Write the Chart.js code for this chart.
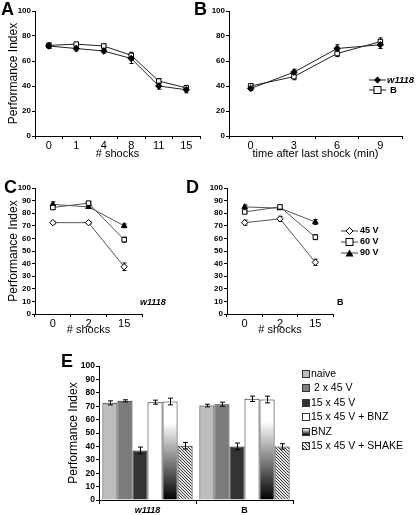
<!DOCTYPE html>
<html>
<head>
<meta charset="utf-8">
<script src="https://cdn.jsdelivr.net/npm/chart.js@4.4.1/dist/chart.umd.min.js"></script>
<style>
  body { margin: 0; background: #fff; width: 416px; height: 515px; position: relative; overflow: hidden;
         font-family: "Liberation Sans", Arial, sans-serif; color: #000; }
  canvas, .t, svg, .sw { position: absolute; }
  .t { white-space: pre; line-height: 1; }
  .panel { font-size: 18px; font-weight: bold; }
  .sw { width: 6px; height: 6px; border: 1px solid #333; }
</style>
</head>
<body>
<canvas id="chartA" width="205" height="165" style="left:0;top:0"></canvas>
<canvas id="chartB" width="210" height="165" style="left:200px;top:0"></canvas>
<canvas id="chartC" width="150" height="175" style="left:0;top:165px"></canvas>
<canvas id="chartD" width="140" height="175" style="left:198px;top:165px"></canvas>
<canvas id="chartE" width="245" height="165" style="left:55px;top:350px"></canvas>

<div class="t panel" style="left:1px;top:0">A</div>
<div class="t panel" style="left:194px;top:0">B</div>
<div class="t panel" style="left:4px;top:178px">C</div>
<div class="t panel" style="left:186px;top:178px">D</div>
<div class="t panel" style="left:61px;top:352px">E</div>

<!-- legend B -->
<svg width="17" height="8" style="left:369px;top:76px"><line x1="0" y1="4" x2="17" y2="4" stroke="#222"/><path d="M8.5 0.5 L12 4 L8.5 7.5 L5 4Z" fill="#000"/></svg>
<div class="t" style="left:387px;top:75px;font-size:9.5px;font-weight:bold;font-style:italic">w1118</div>
<svg width="17" height="8" style="left:369px;top:86px"><line x1="0" y1="4" x2="17" y2="4" stroke="#222"/><rect x="5" y="0.5" width="7" height="7" fill="#fff" stroke="#000"/></svg>
<div class="t" style="left:390px;top:85px;font-size:9.5px;font-weight:bold">B</div>

<!-- legend D -->
<svg width="17" height="8" style="left:341px;top:227px"><line x1="0" y1="4" x2="17" y2="4" stroke="#444"/><path d="M8.5 0.5 L12 4 L8.5 7.5 L5 4Z" fill="#fff" stroke="#000"/></svg>
<div class="t" style="left:360px;top:226px;font-size:9px;font-weight:bold">45 V</div>
<svg width="17" height="8" style="left:341px;top:238px"><line x1="0" y1="4" x2="17" y2="4" stroke="#444"/><rect x="5" y="0.5" width="7" height="7" fill="#fff" stroke="#000"/></svg>
<div class="t" style="left:360px;top:237px;font-size:9px;font-weight:bold">60 V</div>
<svg width="17" height="8" style="left:341px;top:249px"><line x1="0" y1="4" x2="17" y2="4" stroke="#444"/><path d="M8.5 0.5 L12.5 7.5 L4.5 7.5Z" fill="#000"/></svg>
<div class="t" style="left:360px;top:248px;font-size:9px;font-weight:bold">90 V</div>

<div class="t" style="left:140px;top:298px;font-size:9px;font-weight:bold;font-style:italic">w1118</div>
<div class="t" style="left:337px;top:298px;font-size:9px;font-weight:bold">B</div>

<div id="legendE"></div>

<script>
// ---- data ----
const shocksA = ['0', '1', '4', '8', '11', '15'];
const w1118A = [72, 70, 68, 62, 40, 37];
const w1118AErr = [2, 2, 1.5, 4, 2.5, 2.5];
const strainBA = [72.5, 73.5, 72, 64.5, 44, 38.5];
const strainBAErr = [2, 1.5, 1.5, 2.5, 2, 2];

const minutesB = ['0', '3', '6', '9'];
const w1118B = [38, 51, 70, 73];
const w1118BErr = [1.5, 2.5, 3, 3];
const strainBB = [40, 47.5, 66, 75.5];
const strainBBErr = [2, 2.5, 2.5, 3];

const shocksCD = ['0', '2', '15'];
const volt45C = [72.5, 72.5, 37.5];
const volt45CErr = [1, 1, 3];
const volt60C = [84.5, 88, 59];
const volt60CErr = [1.5, 1, 2];
const volt90C = [87, 85, 70];
const volt90CErr = [2, 1, 1.5];

const volt45D = [72.5, 75.5, 41];
const volt45DErr = [2, 2, 2.5];
const volt60D = [81, 85, 61];
const volt60DErr = [1, 1.5, 2];
const volt90D = [85, 84, 73];
const volt90DErr = [1.5, 1, 2];

const strainsE = ['w1118', 'B'];
const treatmentsE = ['naive', ' 2 x 45 V', '15 x 45 V', '15 x 45 V + BNZ', 'BNZ', '15 x 45 V + SHAKE'];
const naiveE = [72.5, 70.5];
const naiveEErr = [1.5, 1];
const twoShockE = [74, 71.5];
const twoShockEErr = [0.8, 1.5];
const fifteenShockE = [37, 40];
const fifteenShockEErr = [2.5, 2.5];
const fifteenBnzE = [73, 75.5];
const fifteenBnzEErr = [1.5, 2];
const bnzE = [73.5, 75];
const bnzEErr = [2.5, 2.5];
const shakeE = [40.5, 40];
const shakeEErr = [2.5, 2];

// ---- setup ----
Chart.defaults.font.family = '"Liberation Sans", Arial, sans-serif';
Chart.defaults.color = '#000';
Chart.defaults.animation = false;
Chart.defaults.plugins.legend.display = false;
Chart.defaults.plugins.tooltip.enabled = false;

function drawErrors(chart) {
    const ctx = chart.ctx;
    const y = chart.scales.y;
    const cap = chart.config.type === 'bar' ? 2.5 : 2;
    chart.data.datasets.forEach(function(ds, i) {
        if (!ds.errors) return;
        const meta = chart.getDatasetMeta(i);
        ctx.save();
        ctx.strokeStyle = '#000';
        ctx.lineWidth = 1;
        meta.data.forEach(function(el, j) {
            const x = Math.round(el.x) + 0.5;
            const hi = y.getPixelForValue(ds.data[j] + ds.errors[j]);
            const lo = y.getPixelForValue(ds.data[j] - ds.errors[j]);
            ctx.beginPath();
            ctx.moveTo(x, hi); ctx.lineTo(x, lo);
            ctx.moveTo(x - cap, hi); ctx.lineTo(x + cap, hi);
            ctx.moveTo(x - cap, lo); ctx.lineTo(x + cap, lo);
            ctx.stroke();
        });
        ctx.restore();
    });
}

const errorBars = {
    id: 'errorBars',
    beforeDatasetsDraw(chart) { if (chart.config.type === 'line') drawErrors(chart); },
    afterDatasetsDraw(chart) { if (chart.config.type === 'bar') drawErrors(chart); }
};

function yAxis(width, title, titlePad, tickSize) {
    return {
        min: 0, max: 100,
        ticks: { stepSize: 10, padding: 1, font: { size: tickSize, weight: 'bold' } },
        grid: { drawOnChartArea: false, tickLength: 3, color: '#000' },
        border: { color: '#000' },
        title: { display: !!title, text: title, font: { size: 12 }, padding: { top: titlePad, bottom: 0 } },
        afterFit(s) { s.width = width; }
    };
}

function xAxis(height, title, titlePad) {
    return {
        offset: true,
        ticks: { padding: 0, font: { size: 11 }, maxRotation: 0 },
        grid: { offset: true, drawOnChartArea: false, tickLength: 3, color: '#000' },
        border: { color: '#000' },
        title: { display: true, text: title, font: { size: 11 }, padding: { top: 0, bottom: titlePad } },
        afterFit(s) { s.height = height; }
    };
}

function series(label, data, errors, style, fill, line, radius) {
    return {
        label: label, data: data, errors: errors,
        borderColor: line, borderWidth: 1,
        pointStyle: style, pointRadius: radius || 3.2,
        pointBackgroundColor: fill, pointBorderColor: '#000', pointBorderWidth: 1
    };
}

function lineChart(id, labels, datasets, yOpts, xOpts, pad) {
    return new Chart(document.getElementById(id), {
        type: 'line',
        data: { labels: labels, datasets: datasets },
        options: {
            responsive: false, devicePixelRatio: 1,
            layout: { padding: pad },
            scales: { x: xOpts, y: yOpts }
        },
        plugins: [errorBars]
    });
}

lineChart('chartA', shocksA, [
    series('w1118', w1118A, w1118AErr, 'rectRot', '#000', '#222'),
    series('B', strainBA, strainBAErr, 'rect', '#fff', '#222')
], yAxis(35, 'Performance Index', 6, 8), xAxis(29, '# shocks', 4), { top: 11, right: 3, left: 0, bottom: 0 });

lineChart('chartB', minutesB, [
    series('w1118', w1118B, w1118BErr, 'rectRot', '#000', '#222'),
    series('B', strainBB, strainBBErr, 'rect', '#fff', '#222')
], yAxis(29, '', 0, 8), xAxis(29, 'time after last shock (min)', 4), { top: 11, right: 8, left: 0, bottom: 0 });

lineChart('chartC', shocksCD, [
    series('45 V', volt45C, volt45CErr, 'rectRot', '#fff', '#555'),
    series('60 V', volt60C, volt60CErr, 'rect', '#fff', '#555'),
    series('90 V', volt90C, volt90CErr, 'triangle', '#000', '#555')
], yAxis(35, 'Performance Index', 6, 8), xAxis(26, '# shocks', 3.4), { top: 23, right: 8, left: 0, bottom: 0 });

lineChart('chartD', shocksCD, [
    series('45 V', volt45D, volt45DErr, 'rectRot', '#fff', '#555'),
    series('60 V', volt60D, volt60DErr, 'rect', '#fff', '#555'),
    series('90 V', volt90D, volt90DErr, 'triangle', '#000', '#555')
], yAxis(29, '', 0, 8), xAxis(26, '# shocks', 3.4), { top: 23, right: 5, left: 0, bottom: 0 });

// ---- panel E ----
const ctxE = document.getElementById('chartE').getContext('2d');
const hatchCanvas = document.createElement('canvas');
hatchCanvas.width = 3; hatchCanvas.height = 3;
const hc = hatchCanvas.getContext('2d');
hc.fillStyle = '#e6e6e6'; hc.fillRect(0, 0, 3, 3);
hc.fillStyle = '#3a3a3a';
hc.fillRect(0, 0, 1, 1); hc.fillRect(1, 1, 1, 1); hc.fillRect(2, 2, 1, 1);
const hatch = ctxE.createPattern(hatchCanvas, 'repeat');

function bnzGradient(c) {
    const chart = c.chart;
    if (!chart.chartArea || c.raw === undefined) return '#999';
    const y = chart.scales.y;
    const g = chart.ctx.createLinearGradient(0, y.getPixelForValue(c.raw), 0, y.bottom);
    g.addColorStop(0, '#fff');
    g.addColorStop(0.22, '#fff');
    g.addColorStop(1, '#000');
    return g;
}

const fillsE = ['#bdbdbd', '#7b7b7b', '#333', '#fff', bnzGradient, hatch];
const valuesE = [naiveE, twoShockE, fifteenShockE, fifteenBnzE, bnzE, shakeE];
const errorsE = [naiveEErr, twoShockEErr, fifteenShockEErr, fifteenBnzEErr, bnzEErr, shakeEErr];

new Chart(ctxE, {
    type: 'bar',
    data: {
        labels: strainsE,
        datasets: treatmentsE.map(function(t, i) {
            return {
                label: t, data: valuesE[i], errors: errorsE[i],
                backgroundColor: fillsE[i], borderColor: '#222', borderWidth: 1,
                barPercentage: 1, categoryPercentage: 0.93
            };
        })
    },
    options: {
        responsive: false, devicePixelRatio: 1,
        layout: { padding: { top: 16, right: 7, left: 0, bottom: 0 } },
        scales: {
            x: {
                ticks: {
                    padding: 1,
                    font: function(c) {
                        return { size: 9, weight: 'bold', style: c.index === 0 ? 'italic' : 'normal' };
                    }
                },
                grid: { offset: true, drawOnChartArea: false, tickLength: 4, color: '#000' },
                border: { color: '#000' },
                afterFit(s) { s.height = 15; }
            },
            y: yAxis(44, 'Performance Index', 11, 8.5)
        }
    },
    plugins: [errorBars]
});

// legend E
const swatchCss = [
    'background:#bdbdbd', 'background:#7b7b7b', 'background:#333', 'background:#fff',
    'background:linear-gradient(#fff,#000)',
    'background:repeating-linear-gradient(45deg,#3a3a3a 0 1px,#e6e6e6 1px 2.5px)'
];
const legendE = document.getElementById('legendE');
treatmentsE.forEach(function(t, i) {
    const yc = 374 + i * 14.4;
    const sw = document.createElement('div');
    sw.className = 'sw';
    sw.style.cssText = 'left:302px;top:' + (yc - 4) + 'px;' + swatchCss[i];
    legendE.appendChild(sw);
    const tx = document.createElement('div');
    tx.className = 't';
    tx.style.cssText = 'left:311px;top:' + (yc - 6) + 'px;font-size:10.5px';
    tx.textContent = t;
    legendE.appendChild(tx);
});
</script>
</body>
</html>
